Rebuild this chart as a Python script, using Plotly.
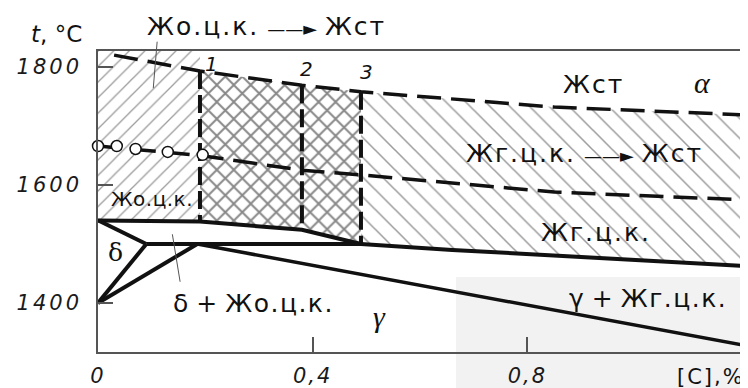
import plotly.graph_objects as go

# phase boundaries: [C] in %, t in °C
top_dash_c = [0.03, 0.19, 0.38, 0.49, 0.85, 1.2]
top_dash_t = [1820, 1793, 1769, 1758, 1732, 1719]

mid_dash_c = [0, 0.19, 0.38, 0.49, 0.85, 1.2]
mid_dash_t = [1666, 1650, 1625, 1617, 1588, 1575]

circle_c = [0, 0.035, 0.07, 0.13, 0.195]
circle_t = [1666, 1666, 1661, 1656, 1651]

liq_c = [0, 0.19, 0.38, 0.49]          # liquidus of delta
liq_t = [1540, 1538, 1524, 1500]

liq2_c = [0.09, 0.49, 0.66, 1.2]       # peritectic line + liquidus of gamma
liq2_t = [1500, 1500, 1490, 1463]

sol_d_c = [0, 0.09]
sol_d_t = [1540, 1500]
d_bound_c = [0, 0.09]
d_bound_t = [1400, 1500]
g_bound_c = [0, 0.185]
g_bound_t = [1400, 1500]
sol_g_c = [0.185, 1.2]
sol_g_t = [1500, 1329]

cut_c = [0.19, 0.38, 0.49]
cut_top = [1793, 1769, 1758]
cut_bot = [1538, 1524, 1500]
cut_labels = ["1", "2", "3"]

x_ticks = [0, 0.4, 0.8]
x_ticktext = ["0", "0,4", "0,8"]
y_ticks = [1400, 1600, 1800]
y_ticktext = ["1400", "1600", "1800"]

X_RANGE = [0, 1.2]
Y_RANGE = [1317, 1827]

FONT = "DejaVu Sans"
INK = "#111111"
HATCH = "#3a3a3a"


def sp(txt, ls):
    return "<span style='letter-spacing:%spx'>%s</span>" % (ls, txt)


fig = go.Figure()

# light grey patch of the scan (lower right)
fig.add_shape(type="rect", xref="paper", yref="paper", x0=0.556, x1=1.02, y0=-0.15, y1=0.249,
              fillcolor="#f2f2f2", line_width=0, layer="below")

# hatched areas
left_x = [0, cut_c[0], cut_c[0], 0]
left_y = [Y_RANGE[1], Y_RANGE[1], liq_t[1], liq_t[0]]
fig.add_trace(go.Scatter(x=left_x, y=left_y, fill="toself", mode="lines", line_width=0,
                         fillcolor="rgba(0,0,0,0)",
                         fillpattern=dict(shape="/", fgcolor=HATCH, bgcolor="rgba(0,0,0,0)",
                                          size=11, solidity=0.12),
                         hoverinfo="skip"))

cross_x = top_dash_c[1:4] + liq_c[3:0:-1]
cross_y = top_dash_t[1:4] + liq_t[3:0:-1]
fig.add_trace(go.Scatter(x=cross_x, y=cross_y, fill="toself", mode="lines", line_width=0,
                         fillcolor="rgba(0,0,0,0)",
                         fillpattern=dict(shape="x", fgcolor="#111", bgcolor="rgba(0,0,0,0)",
                                          size=12, solidity=0.3),
                         hoverinfo="skip"))

right_x = top_dash_c[3:] + liq2_c[:0:-1]
right_y = top_dash_t[3:] + liq2_t[:0:-1]
fig.add_trace(go.Scatter(x=right_x, y=right_y, fill="toself", mode="lines", line_width=0,
                         fillcolor="rgba(0,0,0,0)",
                         fillpattern=dict(shape="\\", fgcolor=HATCH, bgcolor="rgba(0,0,0,0)",
                                          size=14, solidity=0.11),
                         hoverinfo="skip"))

# solid boundaries
for cx, ty, w in [(liq_c, liq_t, 4), (liq2_c, liq2_t, 4), (sol_d_c, sol_d_t, 4),
                  (d_bound_c, d_bound_t, 4), (g_bound_c, g_bound_t, 4), (sol_g_c, sol_g_t, 3.5)]:
    fig.add_trace(go.Scatter(x=cx, y=ty, mode="lines", line=dict(color=INK, width=w),
                             hoverinfo="skip"))

# dashed lines
fig.add_trace(go.Scatter(x=top_dash_c, y=top_dash_t, mode="lines",
                         line=dict(color=INK, width=3.5, dash="24px,10px"), hoverinfo="skip"))
fig.add_trace(go.Scatter(x=mid_dash_c, y=mid_dash_t, mode="lines",
                         line=dict(color=INK, width=3.5, dash="24px,10px"), hoverinfo="skip"))
for c, t0, t1 in zip(cut_c, cut_top, cut_bot):
    fig.add_trace(go.Scatter(x=[c, c], y=[t0, t1], mode="lines",
                             line=dict(color=INK, width=4, dash="18px,6px"), hoverinfo="skip"))

fig.add_trace(go.Scatter(x=circle_c, y=circle_t, mode="markers", cliponaxis=False,
                         marker=dict(symbol="circle", size=11, color="white",
                                     line=dict(color=INK, width=1.5)),
                         hoverinfo="skip"))

# labels inside the plot (data coordinates)
big = dict(family=FONT, size=25, color=INK)
arrow = "<span style='font-size:18px'>——►</span>"
labels = [
    (sp("Жст", 2), 0.923, 1771, big),
    (sp("Жг.ц.к.", 2) + " " + arrow + " " + sp("Жст", 2), 0.906, 1654, big),
    (sp("Жо.ц.к.", 0.5), 0.100, 1576, dict(family=FONT, size=20, color=INK)),
    (sp("Жг.ц.к.", 2), 0.928, 1520, big),
    ("δ", 0.032, 1485, dict(family="DejaVu Serif", size=25, color=INK)),
    (sp("δ\u2009+\u2009Жо.ц.к.", 1.5), 0.289, 1400, big),
    (sp("γ\u2009+\u2009Жг.ц.к.", 1.5), 1.025, 1407, big),
]
for txt, x, y, f in labels:
    fig.add_annotation(x=x, y=y, text=txt, showarrow=False, font=f,
                       xanchor="center", yanchor="middle")

greek_it = dict(family="Liberation Serif", size=30, color=INK, style="italic")
fig.add_annotation(x=1.126, y=1773, text="α", showarrow=False, font=greek_it)
fig.add_annotation(x=0.525, y=1378, text="γ", showarrow=False, font=greek_it)

for lab, c, t in zip(cut_labels, [0.212, 0.389, 0.5], [1805, 1797, 1792]):
    fig.add_annotation(x=c, y=t, text=lab, showarrow=False,
                       font=dict(family=FONT, size=20, color=INK, style="italic"))

# labels outside the plot area (paper coordinates)
outside = [
    (sp("Жо.ц.к.", 2) + " " + arrow + " " + sp("Жст", 2), 0.262, 1.082, big),
    ("<i>t</i>, °C", -0.064, 1.056, dict(family=FONT, size=23, color=INK)),
    (sp("[C],%", 2), 0.952, -0.083, dict(family=FONT, size=21, color=INK)),
]
for txt, x, y, f in outside:
    fig.add_annotation(xref="paper", yref="paper", x=x, y=y, text=txt, showarrow=False,
                       font=f, xanchor="center", yanchor="middle")

# thin leader lines
fig.add_annotation(x=0.103, y=1764, ax=4, ay=-48, text="", showarrow=True,
                   arrowhead=0, arrowwidth=1, arrowcolor="#555")
fig.add_annotation(x=0.153, y=1436, ax=-8, ay=-49, text="", showarrow=True,
                   arrowhead=0, arrowwidth=1, arrowcolor="#555")

axis_common = dict(showline=True, mirror=True, linecolor="#555", linewidth=1.5,
                   showgrid=False, zeroline=False, ticks="inside", ticklen=15,
                   tickcolor="#555", tickwidth=1.5, automargin=False,
                   tickfont=dict(family=FONT, size=21, color="#1a1a1a", style="italic"))

# the page body adds an 8 px offset, so the margins are shifted to compensate
fig.update_layout(
    width=748, height=388,
    margin=dict(l=90, r=14, t=43, b=44),
    paper_bgcolor="white", plot_bgcolor="white",
    showlegend=False,
    xaxis=dict(range=X_RANGE, tickvals=x_ticks, ticktext=[sp(t, 2) for t in x_ticktext],
               ticklabelstandoff=4, **axis_common),
    yaxis=dict(range=Y_RANGE, tickvals=y_ticks,
               ticktext=[sp(t, 3) for t in y_ticktext],
               ticklabelstandoff=10, **axis_common),
)

fig.write_html("out.html")
